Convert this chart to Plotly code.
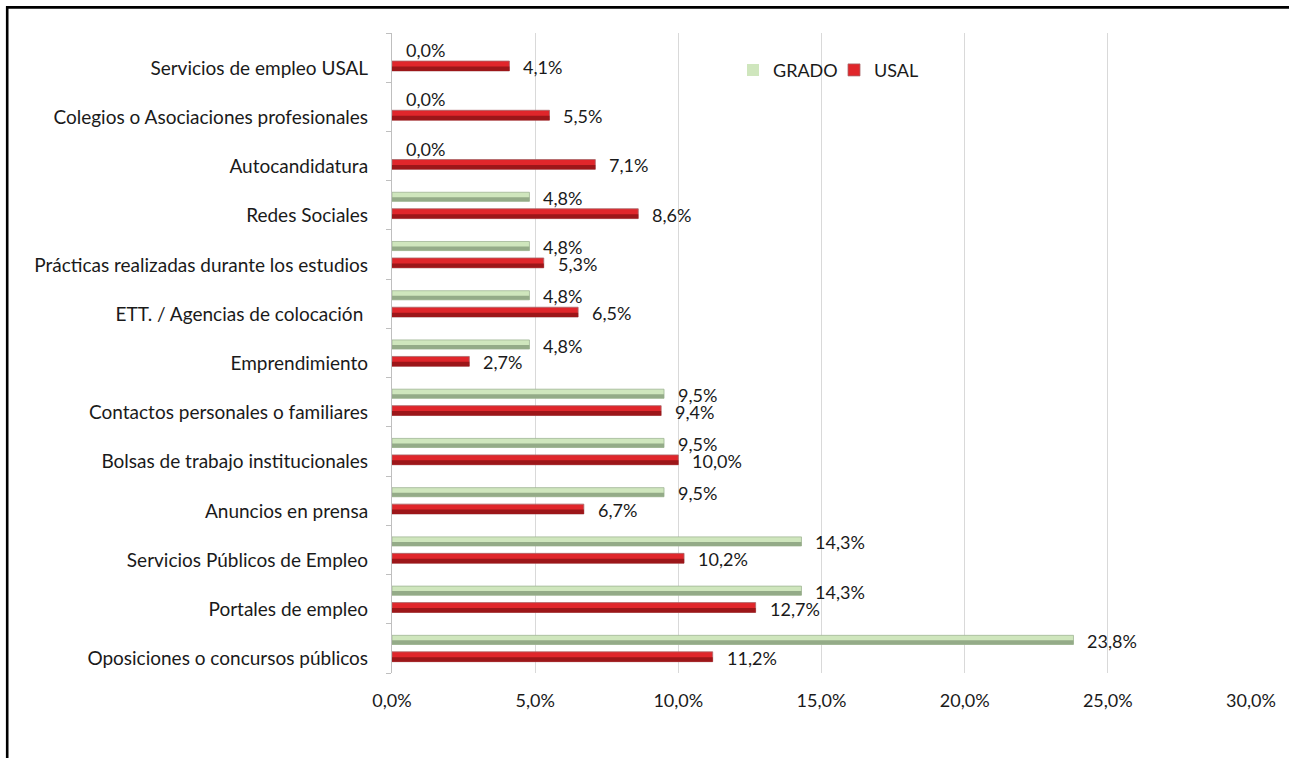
import plotly.graph_objects as go

categories = [
    "Servicios de empleo USAL",
    "Colegios o Asociaciones profesionales",
    "Autocandidatura",
    "Redes Sociales",
    "Prácticas realizadas durante los estudios",
    "ETT. / Agencias de colocación ",
    "Emprendimiento",
    "Contactos personales o familiares",
    "Bolsas de trabajo institucionales",
    "Anuncios en prensa",
    "Servicios Públicos de Empleo",
    "Portales de empleo",
    "Oposiciones o concursos públicos",
]
grado = [0.0, 0.0, 0.0, 4.8, 4.8, 4.8, 4.8, 9.5, 9.5, 9.5, 14.3, 14.3, 23.8]
usal = [4.1, 5.5, 7.1, 8.6, 5.3, 6.5, 2.7, 9.4, 10.0, 6.7, 10.2, 12.7, 11.2]
x_ticks = [0, 5, 10, 15, 20, 25, 30]

FONT = "Lato"
TXT = "#1a1a1a"
FS = 19
FS_LAB = 18
idx = list(range(len(categories)))


def fmt(v):
    return f"{v:.1f}%".replace(".", ",")


G_OFF, G_W = -0.265, 0.185
R_OFF, R_W = 0.07, 0.20

fig = go.Figure()
fig.add_trace(go.Bar(
    y=idx, x=grado, orientation="h", name="GRADO",
    offset=G_OFF, width=G_W,
    marker=dict(color="#cfe6bd",
                line=dict(color="#9fb594", width=[0 if v == 0 else 0.8 for v in grado])),
    hoverinfo="x+name",
))
fig.add_trace(go.Bar(
    y=idx, x=grado, orientation="h", name="GRADO_shade", showlegend=False,
    offset=G_OFF + G_W * 0.55, width=G_W * 0.45,
    marker=dict(color="#94ab88", line=dict(width=0)),
    hoverinfo="skip",
))
fig.add_trace(go.Bar(
    y=idx, x=usal, orientation="h", name="USAL",
    offset=R_OFF, width=R_W,
    marker=dict(color="#e0262b", line=dict(color="#a8676a", width=0.8)),
    hoverinfo="x+name",
))
fig.add_trace(go.Bar(
    y=idx, x=usal, orientation="h", name="USAL_shade", showlegend=False,
    offset=R_OFF + R_W * 0.55, width=R_W * 0.45,
    marker=dict(color="#9c1619", line=dict(width=0)),
    hoverinfo="skip",
))

annotations = []
for i, (g, u) in enumerate(zip(grado, usal)):
    annotations.append(dict(
        x=g, y=i + G_OFF + G_W / 2, xref="x", yref="y", text=fmt(g),
        showarrow=False, xanchor="left", yanchor="middle", xshift=12, yshift=-1,
        font=dict(family=FONT, size=FS_LAB, color=TXT),
    ))
    annotations.append(dict(
        x=u, y=i + R_OFF + R_W / 2, xref="x", yref="y", text=fmt(u),
        showarrow=False, xanchor="left", yanchor="middle", xshift=12, yshift=-1,
        font=dict(family=FONT, size=FS_LAB, color=TXT),
    ))

L, R, T, B = 392, 1251, 33.3, 673.3


def px2x(p):
    return (p - L) / (R - L)


def py2y(p):
    return (B - p) / (B - T)


shapes = [
    dict(type="line", xref="paper", yref="paper", x0=px2x(7.2), x1=px2x(7.2),
         y0=py2y(6.5), y1=py2y(770), line=dict(color="#000000", width=2.6)),
    dict(type="line", xref="paper", yref="paper", x0=px2x(6), x1=px2x(1300),
         y0=py2y(7.7), y1=py2y(7.7), line=dict(color="#000000", width=2.6)),
]

fig.update_layout(
    width=1289, height=758,
    margin=dict(l=L, r=1289 - R, t=T, b=758 - B, autoexpand=False),
    paper_bgcolor="white", plot_bgcolor="white",
    barmode="overlay",
    separators=",.",
    font=dict(family=FONT, size=FS, color=TXT),
    showlegend=True,
    legend=dict(
        orientation="h", x=px2x(733), y=py2y(70.5), xanchor="left", yanchor="middle",
        font=dict(family=FONT, size=FS_LAB, color=TXT),
        traceorder="normal", entrywidth=56, entrywidthmode="pixels",
        bgcolor="rgba(0,0,0,0)",
    ),
    annotations=annotations,
    shapes=shapes,
    xaxis=dict(
        range=[0, 30], tickmode="array", tickvals=x_ticks,
        ticktext=[fmt(v) for v in x_ticks],
        showgrid=True, gridcolor="#d9d9d9", gridwidth=1,
        zeroline=False, showline=False, ticks="",
        ticklabelstandoff=15,
        tickfont=dict(family=FONT, size=FS_LAB, color=TXT),
        fixedrange=True,
    ),
    yaxis=dict(
        range=[len(categories) - 0.5, -0.5],
        tickmode="array", tickvals=[i + 0.21 for i in idx], ticktext=categories,
        showgrid=False, zeroline=False,
        showline=True, linecolor="#bfbfbf", linewidth=1.2,
        ticks="", ticklabelstandoff=19,
        minor=dict(tickmode="array", tickvals=[i - 0.5 for i in range(len(categories) + 1)],
                   ticks="outside", ticklen=5, tickcolor="#bfbfbf", tickwidth=1.2, showgrid=False),
        tickfont=dict(family=FONT, size=FS, color=TXT),
        fixedrange=True,
    ),
)

fig.write_html(
    "out.html",
    config={"displayModeBar": False},
    post_script="document.body.style.margin='0';document.body.style.overflow='hidden';",
)
